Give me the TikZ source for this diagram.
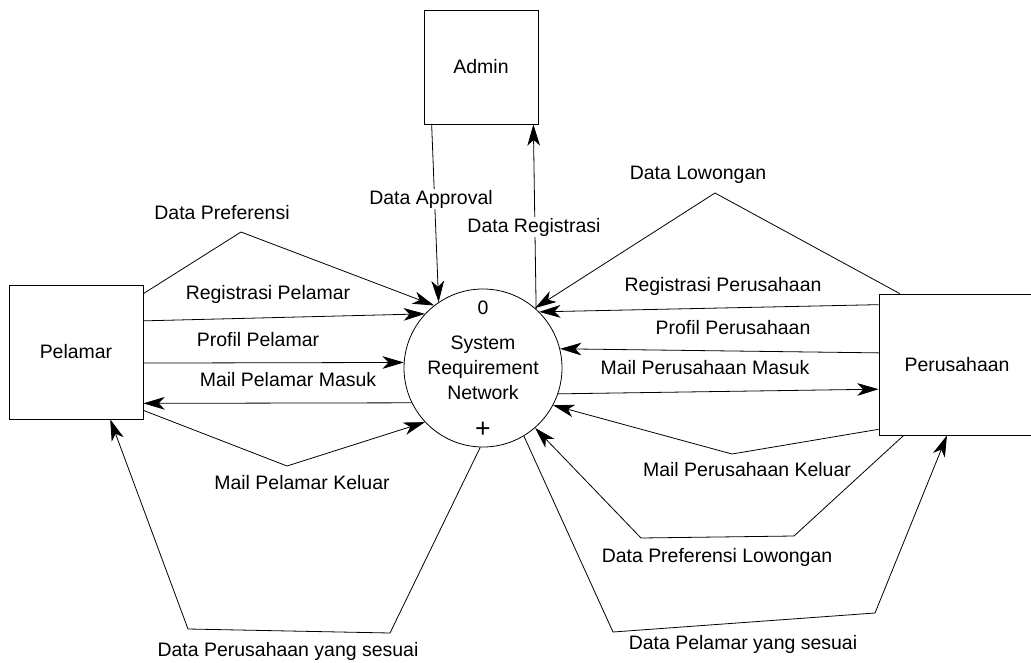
\documentclass[tikz,border=0pt]{standalone}
\usepackage{fontspec}
\setmainfont{Liberation Sans}
\usetikzlibrary{arrows.meta, positioning, calc}

\tikzset{
  entity/.style={draw, line width=0.6pt, inner sep=0pt, font=\fontsize{14.6}{17}\selectfont},
  process/.style={draw, circle, line width=0.6pt, inner sep=0pt, minimum size=118.5pt, align=center, font=\fontsize{14.6}{18.75}\selectfont},
  flow/.style={line width=0.6pt, -{Stealth[length=16pt,width=9.5pt,inset=4.5pt]}},
  lbl/.style={inner sep=0.75pt, fill=white, font=\fontsize{14.6}{17}\selectfont},
}

\begin{document}
\begin{tikzpicture}[x=0.75pt,y=0.75pt,yscale=-1,xscale=1]
\useasboundingbox (0,0) rectangle (1031,663);

%Shape: Rectangle
\node [entity, minimum width=100.5pt, minimum height=100.5pt] (pelamar) at (76,352) {Pelamar};
%Shape: Rectangle
\node [entity, minimum width=85.5pt, minimum height=85.5pt] (admin) at (481,67) {Admin};
%Shape: Rectangle
\node [entity, minimum width=117pt, minimum height=105.75pt] (perusahaan) at (957,364.5) {Perusahaan};
%Shape: Circle
\node [process] (proc) at (483,368) {System\\Requirement\\Network};
\node [inner sep=0.75pt, font=\fontsize{14.6}{17}\selectfont] (num) at (483,308) {0};
\node [inner sep=0.75pt, font=\fontsize{20}{22}\selectfont] (plus) at (483,430) {+};

%Bend points
\coordinate (prefApex) at (241,232);
\coordinate (keluarApex) at (287,466);
\coordinate (psA) at (390,633);
\coordinate (psB) at (188,629);
\coordinate (lowApex) at (715,193);
\coordinate (mpkApex) at (732,454);
\coordinate (dplA) at (794,536);
\coordinate (dplB) at (641,538);
\coordinate (dpsA) at (613,632);
\coordinate (dpsB) at (875,613);

%Straight Lines: Pelamar side
\draw [flow] ($(pelamar.north east)!0.067!(pelamar.south east)$) -- (prefApex) -- (proc.128);
\draw [flow] ($(pelamar.north east)!0.269!(pelamar.south east)$) -- (proc.137.6);
\draw [flow] ($(pelamar.north east)!0.582!(pelamar.south east)$) -- (proc.176);
\draw [flow] (proc.206) -- ($(pelamar.north east)!0.881!(pelamar.south east)$);
\draw [flow] ($(pelamar.north east)!0.933!(pelamar.south east)$) -- (keluarApex) -- (proc.223);
\draw [flow] (proc.268) -- (psA) -- (psB) -- ($(pelamar.south west)!0.754!(pelamar.south east)$);

%Straight Lines: Admin side
\draw [flow] ($(admin.south west)!0.07!(admin.south east)$) -- (proc.124);
\draw [flow] (proc.48) -- ($(admin.south west)!0.956!(admin.south east)$);

%Straight Lines: Perusahaan side
\draw [flow] ($(perusahaan.north west)!0.135!(perusahaan.north east)$) -- (lowApex) -- (proc.49.5);
\draw [flow] ($(perusahaan.north west)!0.078!(perusahaan.south west)$) -- (proc.45);
\draw [flow] ($(perusahaan.north west)!0.418!(perusahaan.south west)$) -- (proc.14);
\draw [flow] (proc.-19) -- ($(perusahaan.north west)!0.674!(perusahaan.south west)$);
\draw [flow] ($(perusahaan.north west)!0.957!(perusahaan.south west)$) -- (mpkApex) -- (proc.-28);
\draw [flow] ($(perusahaan.south west)!0.16!(perusahaan.south east)$) -- (dplA) -- (dplB) -- (proc.-49);
\draw [flow] (proc.-59) -- (dpsA) -- (dpsB) -- ($(perusahaan.south west)!0.436!(perusahaan.south east)$);

% Text Node
\node [lbl] (tPref) at (222,213) {Data Preferensi};
\node [lbl] (tRegPel) at (268,294) {Registrasi Pelamar};
\node [lbl] (tProfPel) at (258,340) {Profil Pelamar};
\node [lbl] (tMasukPel) at (288,380) {Mail Pelamar Masuk};
\node [lbl] (tKeluarPel) at (302,483) {Mail Pelamar Keluar};
\node [lbl] (tPerSesuai) at (288,651) {Data Perusahaan yang sesuai};
\node [lbl] (tApproval) at (431,199) {Data Approval};
\node [lbl] (tRegistrasi) at (534,227) {Data Registrasi};
\node [lbl] (tLowongan) at (698,175) {Data Lowongan};
\node [lbl] (tRegPer) at (723,286) {Registrasi Perusahaan};
\node [lbl] (tProfPer) at (733,328) {Profil Perusahaan};
\node [lbl] (tMasukPer) at (705,368) {Mail Perusahaan Masuk};
\node [lbl] (tKeluarPer) at (747,470) {Mail Perusahaan Keluar};
\node [lbl] (tPrefLow) at (717,557) {Data Preferensi Lowongan};
\node [lbl] (tPelSesuai) at (743,644) {Data Pelamar yang sesuai};

\end{tikzpicture}
\end{document}
